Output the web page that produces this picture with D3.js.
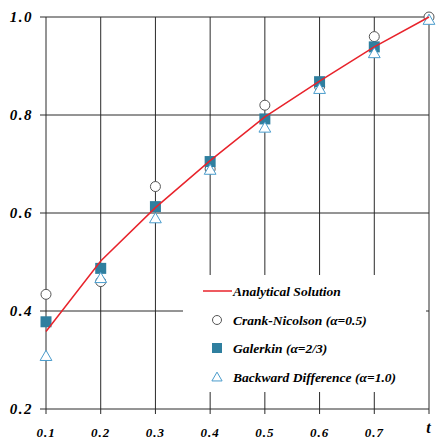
<!DOCTYPE html>
<meta charset="utf-8">
<title>Solution comparison</title>
<script src="https://d3js.org/d3.v7.min.js"></script>
<style>
  body { margin: 0; background: #fff; }
</style>
<div id="chart"></div>
<script>
// data
var tValues = [0.1, 0.2, 0.3, 0.4, 0.5, 0.6, 0.7, 0.8];
var analytical = [0.358, 0.502, 0.611, 0.707, 0.796, 0.869, 0.939, 1.0];
var crankNicolson = [0.434, 0.460, 0.654, 0.690, 0.820, 0.858, 0.960, 1.0];
var galerkin = [0.378, 0.487, 0.613, 0.705, 0.792, 0.868, 0.939];
var backward = [0.308, 0.467, 0.589, 0.688, 0.774, 0.853, 0.926, 0.994];
var xTickLabels = ["0.1", "0.2", "0.3", "0.4", "0.5", "0.6", "0.7", "t"];
var yTicks = [0.2, 0.4, 0.6, 0.8, 1.0];
var legendLabels = ["Analytical Solution", "Crank-Nicolson (\u03b1=0.5)", "Galerkin (\u03b1=2/3)", "Backward Difference (\u03b1=1.0)"];

var serif = "'Liberation Serif', 'Times New Roman', Tinos, 'DejaVu Serif', serif";

var width = 440, height = 442;
var margin = {top: 17, right: 11, bottom: 33, left: 46};

var svg = d3.select("#chart").append("svg")
    .attr("width", width)
    .attr("height", height)
    .attr("font-family", serif)
    .attr("font-weight", "bold")
    .attr("font-style", "italic");

var x = d3.scaleLinear().domain([0.1, 0.8]).range([margin.left, width - margin.right]);
var y = d3.scaleLinear().domain([0.2, 1.0]).range([height - margin.bottom, margin.top]);

// grid lines
svg.append("g").selectAll("line.v")
  .data(tValues).enter().append("line")
    .attr("x1", function(d) { return x(d); })
    .attr("x2", function(d) { return x(d); })
    .attr("y1", y(1.0))
    .attr("y2", y(0.2) + 5)
    .attr("stroke", "#2a2a2a")
    .attr("stroke-width", 1);

svg.append("g").selectAll("line.h")
  .data(yTicks).enter().append("line")
    .attr("x1", x(0.1) - 6)
    .attr("x2", x(0.8))
    .attr("y1", function(d) { return y(d); })
    .attr("y2", function(d) { return y(d); })
    .attr("stroke", "#2a2a2a")
    .attr("stroke-width", 1);

// tick labels
svg.append("g").selectAll("text")
  .data(yTicks).enter().append("text")
    .attr("x", 33)
    .attr("y", function(d) { return y(d) + 5; })
    .attr("text-anchor", "end")
    .attr("font-size", 15)
    .attr("letter-spacing", 1.5)
    .text(function(d) { return d.toFixed(1); });

svg.append("g").selectAll("text")
  .data(tValues).enter().append("text")
    .attr("x", function(d) { return x(d); })
    .attr("y", function(d, i) { return i == 7 ? 433 : 437; })
    .attr("text-anchor", "middle")
    .attr("font-size", function(d, i) { return i == 7 ? 16 : 13; })
    .attr("letter-spacing", 1)
    .text(function(d, i) { return xTickLabels[i]; });

// markers
svg.append("g").selectAll("circle")
  .data(crankNicolson).enter().append("circle")
    .attr("cx", function(d, i) { return x(tValues[i]); })
    .attr("cy", function(d) { return y(d); })
    .attr("r", 5)
    .attr("fill", "#fff")
    .attr("stroke", "#555")
    .attr("stroke-width", 1);

svg.append("g").selectAll("rect")
  .data(galerkin).enter().append("rect")
    .attr("x", function(d, i) { return x(tValues[i]) - 5.5; })
    .attr("y", function(d) { return y(d) - 5.5; })
    .attr("width", 11)
    .attr("height", 11)
    .attr("fill", "#2f7f9f");

var tri = d3.symbol().type(d3.symbolTriangle).size(60);
svg.append("g").selectAll("path")
  .data(backward).enter().append("path")
    .attr("d", tri)
    .attr("transform", function(d, i) { return "translate(" + x(tValues[i]) + "," + (y(d) + 1) + ")"; })
    .attr("fill", "#fff")
    .attr("stroke", "#4a9ccc")
    .attr("stroke-width", 1);

// analytical line
var line = d3.line()
    .x(function(d, i) { return x(tValues[i]); })
    .y(function(d) { return y(d); });

svg.append("path")
    .datum(analytical)
    .attr("d", line)
    .attr("fill", "none")
    .attr("stroke", "#e8232b")
    .attr("stroke-width", 1.5);

// legend
var lg = svg.append("g");
lg.append("rect")
    .attr("x", 183).attr("y", 275)
    .attr("width", 243).attr("height", 117)
    .attr("fill", "#fff");

var rowY = [291, 320, 348, 377];
lg.append("line")
    .attr("x1", 203).attr("x2", 232)
    .attr("y1", rowY[0]).attr("y2", rowY[0])
    .attr("stroke", "#e8232b").attr("stroke-width", 1.5);
lg.append("circle")
    .attr("cx", 217).attr("cy", rowY[1]).attr("r", 4.5)
    .attr("fill", "#fff").attr("stroke", "#555");
lg.append("rect")
    .attr("x", 212).attr("y", rowY[2] - 5).attr("width", 10).attr("height", 10)
    .attr("fill", "#2f7f9f");
lg.append("path")
    .attr("d", d3.symbol().type(d3.symbolTriangle).size(45))
    .attr("transform", "translate(217," + (rowY[3] + 1) + ")")
    .attr("fill", "#fff").attr("stroke", "#4a9ccc");

lg.selectAll("text")
  .data(legendLabels).enter().append("text")
    .attr("x", 233)
    .attr("y", function(d, i) { return rowY[i] + 5; })
    .attr("font-size", 13.5)
    .text(function(d) { return d; });
</script>
